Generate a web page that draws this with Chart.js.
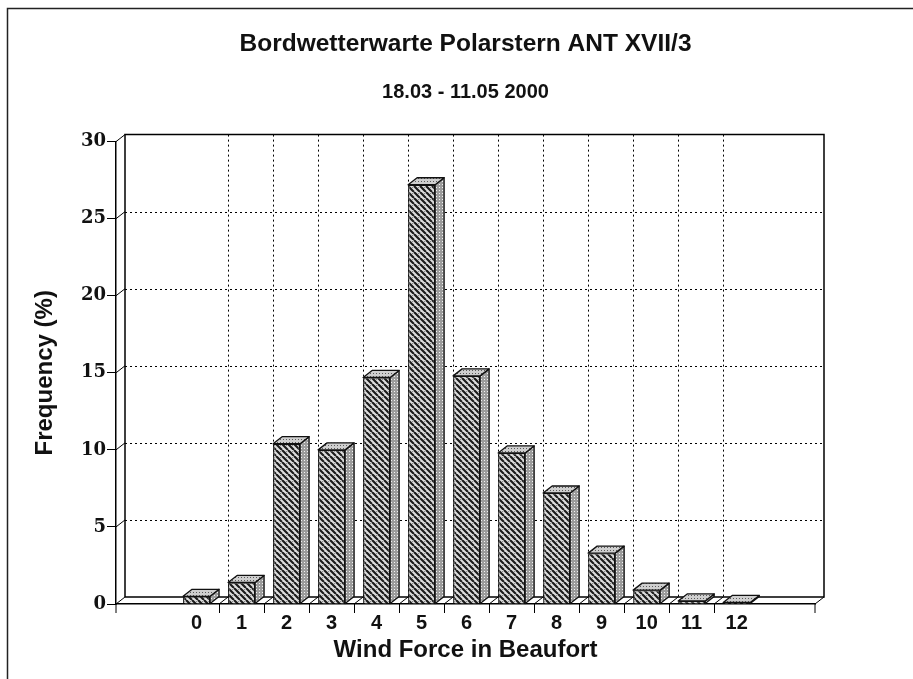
<!DOCTYPE html>
<html lang="de">
<head>
    <meta charset="UTF-8">
    <meta name="viewport" content="width=device-width, initial-scale=1.0">
    <title>Bordwetterwarte Polarstern ANT XVII/3</title>
    <script src="https://cdn.jsdelivr.net/npm/chart.js"></script>
    <style>
        html, body { margin: 0; padding: 0; background: #fff; }
        #chart-container { width: 913px; height: 679px; }
    </style>
</head>
<body>
    <div id="chart-container">
        <canvas id="barChart"></canvas>
    </div>
    <script>
        // Beaufort classes and frequency in %
        var beaufortLabels = ['0', '1', '2', '3', '4', '5', '6', '7', '8', '9', '10', '11', '12'];
        var frequency = [0.5, 1.4, 10.4, 10.0, 14.7, 27.2, 14.8, 9.8, 7.2, 3.3, 0.9, 0.2, 0.1];
        var yTickValues = [0, 5, 10, 15, 20, 25, 30];

        var titleText = 'Bordwetterwarte Polarstern ANT XVII/3';
        var subtitleText = '18.03 - 11.05 2000';
        var xAxisTitle = 'Wind Force in Beaufort';
        var yAxisTitle = 'Frequency (%)';

        // depth of the fake 3D look (px)
        var DX = 9, DY = -7;

        var sans = '"Liberation Sans", Arial, sans-serif';
        var serif = '"DejaVu Serif", "Liberation Serif", serif';

        var canvas = document.getElementById('barChart');
        var mainCtx = canvas.getContext('2d');

        function makePattern(size, bg, draw) {
            var c = document.createElement('canvas');
            c.width = size;
            c.height = size;
            var g = c.getContext('2d');
            g.fillStyle = bg;
            g.fillRect(0, 0, size, size);
            draw(g, size);
            return mainCtx.createPattern(c, 'repeat');
        }

        // front face: dark diagonal hatch on a light stipple
        var frontPattern = makePattern(6, '#dedede', function(g, s) {
            g.fillStyle = '#8a8a8a';
            g.fillRect(4, 1, 1, 1);
            g.strokeStyle = '#1c1c1c';
            g.lineWidth = 2.2;
            g.beginPath();
            for (var k = -1; k <= 1; k++) {
                g.moveTo(k * s, 0);
                g.lineTo(k * s + s, s);
            }
            g.stroke();
        });

        // side face: grey stipple
        var sidePattern = makePattern(3, '#9c9c9c', function(g) {
            g.fillStyle = '#f4f4f4';
            g.fillRect(1, 1, 1, 1);
        });

        // top face: lighter stipple
        var topPattern = makePattern(3, '#cfcfcf', function(g) {
            g.fillStyle = '#5a5a5a';
            g.fillRect(1, 1, 1, 1);
        });

        var depthPlugin = {
            id: 'depth3d',
            beforeDraw: function(chart) {
                var ctx = chart.ctx;
                ctx.save();
                ctx.strokeStyle = '#222';
                ctx.lineWidth = 1.5;
                ctx.beginPath();
                ctx.moveTo(7.5, chart.height);
                ctx.lineTo(7.5, 8.5);
                ctx.lineTo(chart.width, 8.5);
                ctx.stroke();
                ctx.restore();
            },
            beforeDatasetsDraw: function(chart) {
                var ctx = chart.ctx;
                var a = chart.chartArea;
                var xs = chart.scales.x;
                var ys = chart.scales.y;
                var top = ys.getPixelForValue(yTickValues[yTickValues.length - 1]);
                var floor = ys.getPixelForValue(0);
                var i, x;

                ctx.save();
                ctx.strokeStyle = '#000';

                // dotted grid on the back wall
                ctx.lineWidth = 1;
                ctx.setLineDash([2, 3]);
                ctx.beginPath();
                yTickValues.slice(1, -1).forEach(function(v) {
                    var y = Math.round(ys.getPixelForValue(v) + DY) + 0.5;
                    ctx.moveTo(a.left + DX, y);
                    ctx.lineTo(a.right + DX, y);
                });
                for (i = 0; i < beaufortLabels.length - 1; i++) {
                    x = Math.round(xs.getPixelForValue(i + 0.5) + DX) + 0.5;
                    ctx.moveTo(x, top + DY);
                    ctx.lineTo(x, floor + DY);
                }
                ctx.stroke();
                ctx.setLineDash([]);

                // back wall frame
                ctx.lineWidth = 1.5;
                ctx.beginPath();
                ctx.moveTo(a.left + DX, floor + DY);
                ctx.lineTo(a.left + DX, top + DY);
                ctx.lineTo(a.right + DX, top + DY);
                ctx.lineTo(a.right + DX, floor + DY);
                ctx.lineTo(a.left + DX, floor + DY);
                ctx.stroke();

                // connectors front axis -> back wall, floor slashes, x ticks
                ctx.lineWidth = 1;
                ctx.beginPath();
                yTickValues.forEach(function(v) {
                    var y = ys.getPixelForValue(v);
                    ctx.moveTo(a.left, y);
                    ctx.lineTo(a.left + DX, y + DY);
                });
                for (i = 0; i < beaufortLabels.length - 1; i++) {
                    x = xs.getPixelForValue(i + 0.5);
                    ctx.moveTo(x, floor);
                    ctx.lineTo(x + DX, floor + DY);
                    ctx.moveTo(Math.round(x) + 0.5, floor);
                    ctx.lineTo(Math.round(x) + 0.5, floor + 9);
                }
                ctx.moveTo(a.right, floor);
                ctx.lineTo(a.right + DX, floor + DY);
                ctx.moveTo(a.right, floor);
                ctx.lineTo(a.right, floor + 9);
                ctx.moveTo(a.left, floor);
                ctx.lineTo(a.left, floor + 9);
                ctx.stroke();
                ctx.restore();
            },
            afterDatasetsDraw: function(chart) {
                var ctx = chart.ctx;
                var meta = chart.getDatasetMeta(0);
                ctx.save();
                ctx.strokeStyle = '#111';
                ctx.lineWidth = 1.3;
                ctx.lineJoin = 'round';
                meta.data.forEach(function(bar) {
                    var p = bar.getProps(['x', 'y', 'base', 'width'], true);
                    var l = p.x - p.width / 2;
                    var r = p.x + p.width / 2;
                    // side face
                    ctx.beginPath();
                    ctx.moveTo(r, p.y);
                    ctx.lineTo(r + DX, p.y + DY);
                    ctx.lineTo(r + DX, p.base + DY);
                    ctx.lineTo(r, p.base);
                    ctx.closePath();
                    ctx.fillStyle = sidePattern;
                    ctx.fill();
                    ctx.stroke();
                    // top face
                    ctx.beginPath();
                    ctx.moveTo(l, p.y);
                    ctx.lineTo(l + DX, p.y + DY);
                    ctx.lineTo(r + DX, p.y + DY);
                    ctx.lineTo(r, p.y);
                    ctx.closePath();
                    ctx.fillStyle = topPattern;
                    ctx.fill();
                    ctx.stroke();
                });
                ctx.restore();
            }
        };

        new Chart(canvas, {
            type: 'bar',
            data: {
                datasets: [{
                    label: 'Frequency',
                    data: frequency.map(function(v, i) { return { x: i, y: v }; }),
                    backgroundColor: frontPattern,
                    borderColor: '#111',
                    borderWidth: 1.3,
                    barPercentage: 0.6,
                    categoryPercentage: 1.0
                }]
            },
            options: {
                responsive: true,
                maintainAspectRatio: false,
                animation: false,
                devicePixelRatio: 1,
                layout: { padding: { left: 0, right: 98, top: 0, bottom: 0 } },
                plugins: {
                    legend: { display: false },
                    tooltip: { enabled: false },
                    title: {
                        display: true,
                        text: titleText,
                        fullSize: false,
                        color: '#111',
                        font: { family: sans, size: 24.5, weight: 'bold', lineHeight: 1.2 },
                        padding: { top: 29.5, bottom: 0 }
                    },
                    subtitle: {
                        display: true,
                        text: subtitleText,
                        fullSize: false,
                        color: '#111',
                        font: { family: sans, size: 20, weight: 'bold', lineHeight: 1.2 },
                        padding: { top: 21.5, bottom: 37.2 }
                    }
                },
                scales: {
                    x: {
                        type: 'linear',
                        offset: false,
                        min: -1.79,
                        max: 13.74,
                        afterFit: function(s) { s.height = 75; },
                        afterBuildTicks: function(s) {
                            s.ticks = beaufortLabels.map(function(l, i) { return { value: i }; });
                        },
                        grid: { display: false, drawTicks: false, offset: false },
                        border: { display: true, color: '#000', width: 1.5 },
                        ticks: {
                            autoSkip: false,
                            maxRotation: 0,
                            padding: 7,
                            color: '#111',
                            font: { family: sans, size: 20, weight: 'bold', lineHeight: 1.2 },
                            callback: function(value) { return beaufortLabels[value]; }
                        },
                        title: {
                            display: true,
                            text: xAxisTitle,
                            color: '#111',
                            font: { family: sans, size: 24, weight: 'bold', lineHeight: 1.2 },
                            padding: { top: 0, bottom: 14.6 }
                        }
                    },
                    y: {
                        min: 0,
                        max: 30,
                        afterFit: function(s) { s.width = 116; },
                        afterBuildTicks: function(s) {
                            s.ticks = yTickValues.map(function(v) { return { value: v }; });
                        },
                        grid: { display: true, drawOnChartArea: false, drawTicks: true, tickLength: 9, color: '#000', lineWidth: 1 },
                        border: { display: true, color: '#000', width: 1.5 },
                        ticks: {
                            padding: 1,
                            color: '#111',
                            font: { family: serif, size: 18, weight: 'bold' }
                        },
                        title: {
                            display: true,
                            text: yAxisTitle,
                            color: '#111',
                            font: { family: sans, size: 24, weight: 'bold', lineHeight: 1.2 },
                            padding: { top: 30.6, bottom: 0 }
                        }
                    }
                }
            },
            plugins: [depthPlugin]
        });
    </script>
</body>
</html>
